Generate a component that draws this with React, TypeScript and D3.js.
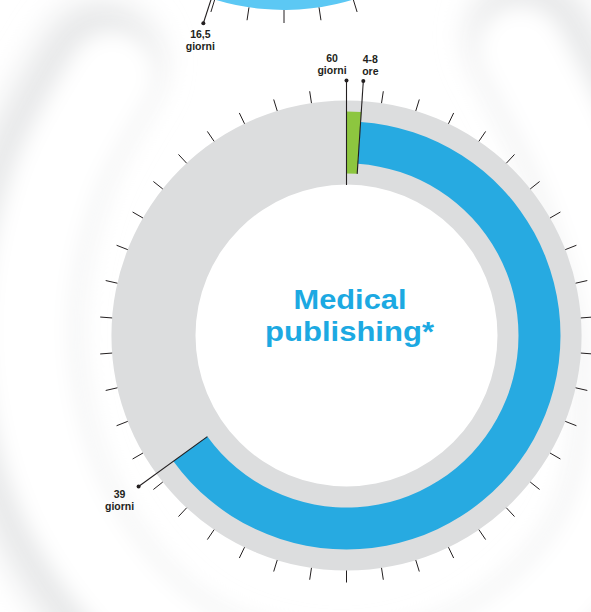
import React from 'react';
import * as d3 from 'd3';

// ---------- data ----------
const mainTotalDays = 60;
const mainTickCount = 42;
const segmentLabels = ['4-8 ore', '39 giorni'];
const segmentStart = [0, 0];
const segmentEnd = [0.63, 39];
const markerValues = [0, 0.63, 39];
const markerTop = ['60', '4-8', '39'];
const markerBottom = ['giorni', 'ore', 'giorni'];

const topTotalDays = 30;
const topTickCount = 42;
const topArcStart = 0;
const topArcEnd = 16.5;
const topMarkerTop = '16,5';
const topMarkerBottom = 'giorni';

const titleLines = ['Medical', 'publishing*'];

// decoration outline (soft tube behind the gauge)
const decoX = [530, 600, 645, 615, 495, 340, 175, 55, 12, 40, 100];
const decoY = [35, 180, 360, 545, 665, 705, 660, 520, 340, 175, 62];

// ---------- layout ----------
const W = 591;
const H = 612;
const cx = 346.5;
const cy = 335.5;
const tcx = 284;
const tcy = -225;

const DARK = '#231F20';
const GRAY = '#DCDDDE';
const BLUE = '#27AAE1';
const LIGHTBLUE = '#5CC8F4';
const GREEN = '#8DC63F';
const TITLE = '#1CA9E2';
const FONT = "'Liberation Sans', Arial, sans-serif";

function polar(ccx: number, ccy: number, a: number, r: number): [number, number] {
  return [ccx + r * Math.sin(a), ccy - r * Math.cos(a)];
}

export default function App() {
  const angle = d3.scaleLinear().domain([0, mainTotalDays]).range([0, 2 * Math.PI]);
  const topAngle = d3.scaleLinear().domain([0, topTotalDays]).range([0, 2 * Math.PI]);
  const arc = d3.arc<any>();

  const ringPath = arc({ innerRadius: 151, outerRadius: 235, startAngle: 0, endAngle: 2 * Math.PI });
  const greenPath = arc({ innerRadius: 162, outerRadius: 224, startAngle: angle(segmentStart[0]), endAngle: angle(segmentEnd[0]) });
  const bluePath = arc({ innerRadius: 172, outerRadius: 214, startAngle: angle(segmentEnd[0]), endAngle: angle(segmentEnd[1]) });
  const topBluePath = arc({ innerRadius: 172, outerRadius: 235, startAngle: topAngle(topArcStart), endAngle: topAngle(topArcEnd) });

  const ticks = d3.range(mainTickCount).map((k) => (k * 2 * Math.PI) / mainTickCount).filter((a) => a > 0.01);
  const topTicks = d3.range(topTickCount).map((k) => (k * 2 * Math.PI) / topTickCount);

  const line = d3.line<[number, number]>().curve(d3.curveCatmullRom.alpha(0.5));
  const decoPts: [number, number][] = decoX.map((x, i) => [x, decoY[i]]);
  const decoPath = line(decoPts) || '';

  const markerInner = [150.5, 162, 172];
  const markerOuter = [255, 255, 257];
  const labelDx = [-14.5, 7, -19];
  const labelDy1 = [-18.5, -18.5, 11.2];
  const labelDy2 = [-6.5, -6.5, 23.2];

  const topMarkerA = topAngle(topArcEnd);
  const topDot = polar(tcx, tcy, topMarkerA, 261);
  const topIn = polar(tcx, tcy, topMarkerA, 200);

  const fs = 10.5;

  return (
    <svg width={W} height={H} style={{ position: 'absolute', left: 0, top: 0, background: '#fff' }}>
      <defs>
        <filter id="blurA" x="-30%" y="-30%" width="160%" height="160%">
          <feGaussianBlur stdDeviation="16" />
        </filter>
        <filter id="blurB" x="-30%" y="-30%" width="160%" height="160%">
          <feGaussianBlur stdDeviation="11" />
        </filter>
      </defs>
      <rect width={W} height={H} fill="#fff" />
      {/* decoration */}
      <path d={decoPath} fill="none" stroke="#E6E7E8" strokeWidth={120} strokeLinecap="round" filter="url(#blurA)" />
      <g transform={`translate(${cx},${cy}) scale(0.95) translate(${-cx},${-cy})`}>
        <path d={decoPath} fill="none" stroke="#FFFFFF" strokeWidth={95} strokeLinecap="round" filter="url(#blurB)" />
      </g>

      {/* top gauge (partially visible) */}
      <g>
        <path d={topBluePath || ''} transform={`translate(${tcx},${tcy})`} fill={LIGHTBLUE} />
        {topTicks.map((a, i) => {
          const [x1, y1] = polar(tcx, tcy, a, 235);
          const [x2, y2] = polar(tcx, tcy, a, 248);
          return <line key={i} x1={x1} y1={y1} x2={x2} y2={y2} stroke={DARK} strokeWidth={1} />;
        })}
        <line x1={topIn[0]} y1={topIn[1]} x2={topDot[0]} y2={topDot[1]} stroke={DARK} strokeWidth={1.1} />
        <circle cx={topDot[0]} cy={topDot[1]} r={2} fill={DARK} />
        <text x={topDot[0] - 3} y={topDot[1] + 15} textAnchor="middle" fontFamily={FONT} fontWeight={700} fontSize={fs} fill={DARK}>{topMarkerTop}</text>
        <text x={topDot[0] - 3} y={topDot[1] + 27} textAnchor="middle" fontFamily={FONT} fontWeight={700} fontSize={fs} fill={DARK}>{topMarkerBottom}</text>
      </g>

      {/* main gauge */}
      <g transform={`translate(${cx},${cy})`}>
        <path d={ringPath || ''} fill={GRAY} />
        <path d={greenPath || ''} fill={GREEN} />
        <path d={bluePath || ''} fill={BLUE} />
      </g>
      {ticks.map((a, i) => {
        const [x1, y1] = polar(cx, cy, a, 235);
        const [x2, y2] = polar(cx, cy, a, 247);
        return <line key={i} x1={x1} y1={y1} x2={x2} y2={y2} stroke={DARK} strokeWidth={1} />;
      })}
      {markerValues.map((v, i) => {
        const a = angle(v);
        const [x1, y1] = polar(cx, cy, a, markerInner[i]);
        const [x2, y2] = polar(cx, cy, a, markerOuter[i]);
        return (
          <g key={i}>
            <line x1={x1} y1={y1} x2={x2} y2={y2} stroke={DARK} strokeWidth={1.1} />
            <circle cx={x2} cy={y2} r={2} fill={DARK} />
            <text x={x2 + labelDx[i]} y={y2 + labelDy1[i]} textAnchor="middle" fontFamily={FONT} fontWeight={700} fontSize={fs} fill={DARK}>{markerTop[i]}</text>
            <text x={x2 + labelDx[i]} y={y2 + labelDy2[i]} textAnchor="middle" fontFamily={FONT} fontWeight={700} fontSize={fs} fill={DARK}>{markerBottom[i]}</text>
          </g>
        );
      })}
      <text x={350} y={308.5} textAnchor="middle" fontFamily={FONT} fontWeight={700} fontSize={28.5} fill={TITLE} textLength={113} lengthAdjust="spacingAndGlyphs">{titleLines[0]}</text>
      <text x={349.5} y={340.5} textAnchor="middle" fontFamily={FONT} fontWeight={700} fontSize={28.5} fill={TITLE} textLength={169} lengthAdjust="spacingAndGlyphs">{titleLines[1]}</text>
    </svg>
  );
}
